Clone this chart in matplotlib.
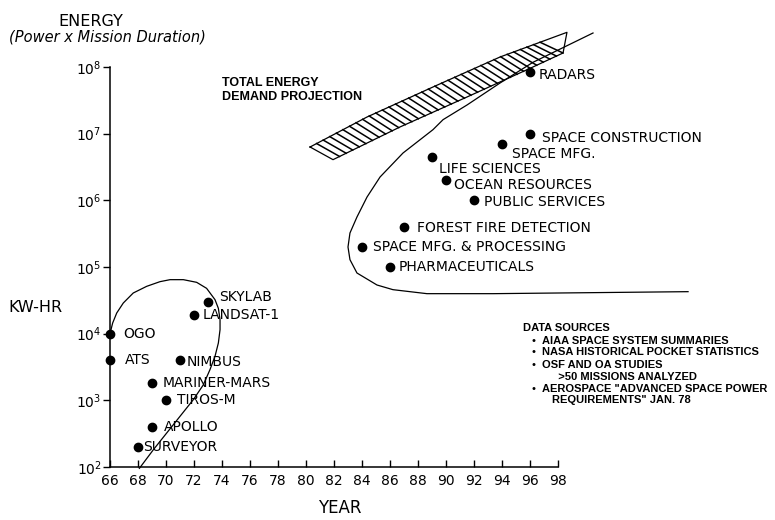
import numpy as np
import matplotlib
matplotlib.use("Agg")
import matplotlib.pyplot as plt

# mission data: year, energy (kW-hr)
past_names = ["SKYLAB", "LANDSAT-1", "OGO", "ATS", "NIMBUS", "MARINER-MARS",
              "TIROS-M", "APOLLO", "SURVEYOR"]
past_year = [73, 72, 66, 66, 71, 69, 70, 69, 68]
past_kwhr = [3.0e4, 1.9e4, 1.0e4, 4.0e3, 4.0e3, 1.8e3, 1.0e3, 4.0e2, 2.0e2]

future_names = ["RADARS", "SPACE CONSTRUCTION", "SPACE MFG.", "LIFE SCIENCES",
                "OCEAN RESOURCES", "PUBLIC SERVICES", "FOREST FIRE DETECTION",
                "SPACE MFG. & PROCESSING", "PHARMACEUTICALS"]
future_year = [96, 96, 94, 89, 90, 92, 87, 84, 86]
future_kwhr = [8.5e7, 1.0e7, 7.0e6, 4.5e6, 2.0e6, 1.0e6, 4.0e5, 2.0e5, 1.0e5]

# hand-drawn envelopes (year, log10 kW-hr)
loop_year = [68.1, 69.1, 70.05, 71.0, 71.95, 72.66, 73.14, 73.5, 73.74, 73.86,
             73.86, 73.74, 73.5, 72.9, 72.19, 71.24, 70.29, 69.57, 68.62,
             67.66, 66.95, 66.48, 66.19, 66.0]
loop_log = [1.98, 2.26, 2.51, 2.76, 3.01, 3.23, 3.46, 3.66, 3.86, 4.06,
            4.21, 4.38, 4.51, 4.68, 4.77, 4.81, 4.81, 4.78, 4.71,
            4.61, 4.46, 4.31, 4.16, 4.0]

env_year = [100.5, 96.21, 93.86, 91.5, 89.79, 89.07, 86.93, 85.29, 84.36,
            83.64, 83.14, 83.0, 83.14, 83.64, 85.07, 86.21, 88.64, 93.36,
            107.29]
env_log = [8.51, 8.07, 7.76, 7.43, 7.21, 7.06, 6.71, 6.35, 6.05,
           5.75, 5.51, 5.30, 5.11, 4.91, 4.73, 4.66, 4.60, 4.60,
           4.63]

# total energy demand projection band
band_up_year = [80.29, 84.36, 89.07, 93.86, 98.64]
band_up_log = [6.80, 7.25, 7.70, 8.15, 8.52]
band_lo_year = [81.93, 86.71, 91.5, 96.21, 98.36]
band_lo_log = [6.61, 7.10, 7.55, 8.0, 8.21]

x_ticks = list(range(66, 99, 2))
y_ticks = [1e2, 1e3, 1e4, 1e5, 1e6, 1e7, 1e8]

past_offsets = [(11, 5), (9, 0), (13, 0), (15, 0), (7, -2), (11, 0), (11, 0),
                (12, 0), (5, 0)]
future_offsets = [(9, -3), (12, -4), (10, -10), (7, -12), (8, -5), (10, -2),
                  (13, -1), (11, 0), (9, 0)]

W, H = 775, 520


def fx(x):
    return x / W


def fy(y):
    return 1 - y / H


fig = plt.figure(figsize=(W / 100, H / 100), dpi=100)
ax = fig.add_axes([fx(110), fy(467), 448 / W, 400 / H])
ax.set_yscale("log")
ax.set_xlim(66, 98)
ax.set_ylim(1e2, 1e8)
ax.spines["top"].set_visible(False)
ax.spines["right"].set_visible(False)
for s in ["left", "bottom"]:
    ax.spines[s].set_linewidth(1.1)
ax.set_xticks(x_ticks)
ax.set_yticks(y_ticks)
ax.yaxis.set_minor_locator(matplotlib.ticker.NullLocator())
ax.tick_params(axis="x", direction="in", length=5, width=1, labelsize=10, pad=5)
ax.tick_params(axis="y", direction="out", length=5, width=1, labelsize=10, pad=1)

lw = 0.9
ax.plot(loop_year, 10 ** np.array(loop_log), color="black", lw=lw, clip_on=False)
ax.plot(env_year, 10 ** np.array(env_log), color="black", lw=lw, clip_on=False)

# hatched band: outline plus slanted strokes between the edges
uy = np.array(band_up_year)
ul = np.array(band_up_log)
ly = np.array(band_lo_year)
ll = np.array(band_lo_log)
outline_x = np.concatenate([uy, ly[::-1], uy[:1]])
outline_y = np.concatenate([ul, ll[::-1], ul[:1]])
ax.plot(outline_x, 10 ** outline_y, color="black", lw=lw, clip_on=False)
shift = ly[0] - uy[0]
for xu in np.linspace(uy[0], ly[-1] - shift, 36)[1:]:
    xl = xu + shift
    ax.plot([xu, xl], [10 ** np.interp(xu, uy, ul), 10 ** np.interp(xl, ly, ll)],
            color="black", lw=1.1, clip_on=False)

ax.plot(past_year, past_kwhr, "o", color="black", ms=6, clip_on=False, zorder=5)
ax.plot(future_year, future_kwhr, "o", color="black", ms=6, clip_on=False, zorder=5)
for name, x, y, (dx, dy) in zip(past_names + future_names,
                                past_year + future_year,
                                past_kwhr + future_kwhr,
                                past_offsets + future_offsets):
    ax.annotate(name, (x, y), xytext=(dx, dy), textcoords="offset pixels",
                ha="left", va="center", fontsize=10)

fig.text(fx(91), fy(21), "ENERGY", ha="center", va="center", fontsize=11.5)
fig.text(fx(107), fy(37), "(Power x Mission Duration)", ha="center",
         va="center", fontsize=10.5, style="italic")
fig.text(fx(8), fy(308), "KW-HR", ha="left", va="center", fontsize=11.5)
fig.text(fx(340), fy(508), "YEAR", ha="center", va="center", fontsize=12)

bold = ["Liberation Sans", "DejaVu Sans"]
fig.text(fx(222), fy(83), "TOTAL ENERGY", ha="left", va="center",
         fontsize=9, fontweight="bold", family=bold)
fig.text(fx(222), fy(97), "DEMAND PROJECTION", ha="left", va="center",
         fontsize=9, fontweight="bold", family=bold)

fig.text(fx(523), fy(328), "DATA SOURCES", ha="left", va="center",
         fontsize=8, fontweight="bold", family=bold)
sources = [("AIAA SPACE SYSTEM SUMMARIES", 341, True),
           ("NASA HISTORICAL POCKET STATISTICS", 352, True),
           ("OSF AND OA STUDIES", 365, True),
           ("  >50 MISSIONS ANALYZED", 377, False),
           ("AEROSPACE \"ADVANCED SPACE POWER", 389, True),
           ("REQUIREMENTS\" JAN. 78", 400, False)]
for s, y, bullet in sources:
    if bullet:
        fig.text(fx(533), fy(y), "\u2022", ha="center", va="center",
                 fontsize=8, family=bold)
        x = 542
    else:
        x = 552
    fig.text(fx(x), fy(y), s, ha="left", va="center", fontsize=8,
             fontweight="bold", family=bold)

fig.savefig("out.png", dpi=100)
